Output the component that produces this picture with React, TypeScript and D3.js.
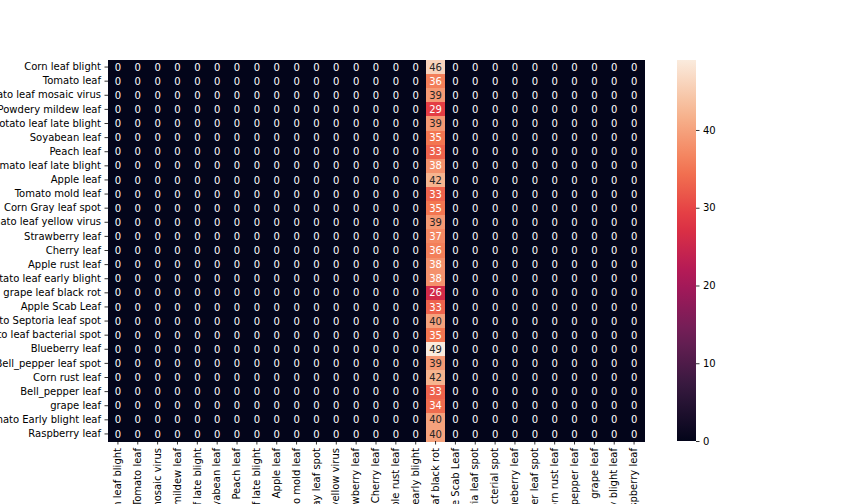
import React, { useEffect, useRef } from "react";
import * as d3 from "d3";

const labels = [
  "Corn leaf blight",
  "Tomato leaf",
  "Tomato leaf mosaic virus",
  "Powdery mildew leaf",
  "Potato leaf late blight",
  "Soyabean leaf",
  "Peach leaf",
  "Tomato leaf late blight",
  "Apple leaf",
  "Tomato mold leaf",
  "Corn Gray leaf spot",
  "Tomato leaf yellow virus",
  "Strawberry leaf",
  "Cherry leaf",
  "Apple rust leaf",
  "Potato leaf early blight",
  "grape leaf black rot",
  "Apple Scab Leaf",
  "Tomato Septoria leaf spot",
  "Tomato leaf bacterial spot",
  "Blueberry leaf",
  "Bell_pepper leaf spot",
  "Corn rust leaf",
  "Bell_pepper leaf",
  "grape leaf",
  "Tomato Early blight leaf",
  "Raspberry leaf",
];

// every sample was predicted as this class
const predictedLabel = "grape leaf black rot";

// counts in the predicted column, one per true class (row order above)
const predictedCounts = [
  46, 36, 39, 29, 39, 35, 33, 38, 42, 33, 35, 39, 37, 36, 38, 38, 26, 33, 40,
  35, 49, 39, 42, 33, 34, 40, 40,
];

const colorTicks = [0, 10, 20, 30, 40];

// seaborn "rocket" approximated by a few samples
const rocketStops = [
  "#03051a",
  "#35193e",
  "#701f57",
  "#ad1759",
  "#e13342",
  "#f37651",
  "#f6b48f",
  "#faebdd",
];

const Heatmap = () => {
  const svgRef = useRef<SVGSVGElement | null>(null);

  useEffect(() => {
    if (!svgRef.current) return;
    document.body.style.margin = "0";

    const svg = d3.select(svgRef.current);
    svg.selectAll("*").remove();

    const left = 108;
    const right = 644;
    const top = 60;
    const bottom = 441;
    const font = "DejaVu Sans, sans-serif";

    const vmax = d3.max(predictedCounts) as number;

    // build the full matrix from the rows and the predicted column
    const cells = labels.flatMap((rowLabel, i) =>
      labels.map((colLabel) => ({
        row: rowLabel,
        col: colLabel,
        value: colLabel === predictedLabel ? predictedCounts[i] : 0,
      }))
    );

    const x = d3.scaleBand().domain(labels).range([left, right]);
    const y = d3.scaleBand().domain(labels).range([top, bottom]);

    const color = d3
      .scaleLinear<string>()
      .domain(rocketStops.map((_, i) => (i / (rocketStops.length - 1)) * vmax))
      .range(rocketStops)
      .interpolate(d3.interpolateRgb)
      .clamp(true);

    // relative luminance, same test seaborn uses to pick annotation colour
    const luminance = (c: string) => {
      const rgb = d3.rgb(c);
      const lin = [rgb.r, rgb.g, rgb.b].map((v) => {
        const s = v / 255;
        return s <= 0.03928 ? s / 12.92 : Math.pow((s + 0.055) / 1.055, 2.4);
      });
      return 0.2126 * lin[0] + 0.7152 * lin[1] + 0.0722 * lin[2];
    };

    // cells
    svg
      .append("g")
      .attr("shape-rendering", "crispEdges")
      .selectAll("rect")
      .data(cells)
      .join("rect")
      .attr("x", (d) => x(d.col) as number)
      .attr("y", (d) => y(d.row) as number)
      .attr("width", x.bandwidth() + 0.5)
      .attr("height", y.bandwidth() + 0.5)
      .attr("fill", (d) => color(d.value));

    // annotations
    svg
      .append("g")
      .selectAll("text")
      .data(cells)
      .join("text")
      .attr("x", (d) => (x(d.col) as number) + x.bandwidth() / 2)
      .attr("y", (d) => (y(d.row) as number) + y.bandwidth() / 2)
      .attr("dy", "0.36em")
      .attr("text-anchor", "middle")
      .attr("font-family", font)
      .attr("font-size", 10)
      .attr("fill", (d) =>
        luminance(color(d.value)) > 0.408 ? "#262626" : "#ffffff"
      )
      .text((d) => d.value);

    // y axis
    const yAxis = svg
      .append("g")
      .attr("transform", `translate(${left},0)`)
      .call(d3.axisLeft(y).tickSize(3.5).tickPadding(3.5));
    yAxis.select(".domain").remove();
    yAxis
      .selectAll("text")
      .attr("font-family", font)
      .attr("font-size", 10)
      .attr("fill", "#000");
    yAxis.selectAll("line").attr("stroke", "#000").attr("stroke-width", 0.8);

    // x axis, labels rotated
    const xAxis = svg
      .append("g")
      .attr("transform", `translate(0,${bottom})`)
      .call(d3.axisBottom(x).tickSize(3.5).tickPadding(3.5));
    xAxis.select(".domain").remove();
    xAxis.selectAll("line").attr("stroke", "#000").attr("stroke-width", 0.8);
    xAxis
      .selectAll("text")
      .attr("font-family", font)
      .attr("font-size", 10)
      .attr("fill", "#000")
      .attr("text-anchor", "end")
      .attr("y", 0)
      .attr("dy", "0.32em")
      .attr("transform", "translate(0,7) rotate(-90)");

    // colorbar
    const cbLeft = 677;
    const cbWidth = 19;
    const cbScale = d3.scaleLinear().domain([0, vmax]).range([bottom, top]);

    const grad = svg
      .append("defs")
      .append("linearGradient")
      .attr("id", "rocket-grad")
      .attr("x1", 0)
      .attr("y1", 1)
      .attr("x2", 0)
      .attr("y2", 0);
    d3.range(0, 1.0001, 0.05).forEach((t) => {
      grad
        .append("stop")
        .attr("offset", t)
        .attr("stop-color", color(t * vmax));
    });

    svg
      .append("rect")
      .attr("x", cbLeft)
      .attr("y", top)
      .attr("width", cbWidth)
      .attr("height", bottom - top)
      .attr("fill", "url(#rocket-grad)");

    const cbAxis = svg
      .append("g")
      .attr("transform", `translate(${cbLeft + cbWidth},0)`)
      .call(
        d3
          .axisRight(cbScale)
          .tickValues(colorTicks)
          .tickSize(3.5)
          .tickPadding(3.5)
      );
    cbAxis.select(".domain").remove();
    cbAxis.selectAll("line").attr("stroke", "#000").attr("stroke-width", 0.8);
    cbAxis
      .selectAll("text")
      .attr("font-family", font)
      .attr("font-size", 10)
      .attr("fill", "#000");
  }, []);

  return (
    <svg
      ref={svgRef}
      width={864}
      height={504}
      style={{ display: "block", background: "#fff", overflow: "hidden" }}
    />
  );
};

export default function App() {
  return <Heatmap />;
}
